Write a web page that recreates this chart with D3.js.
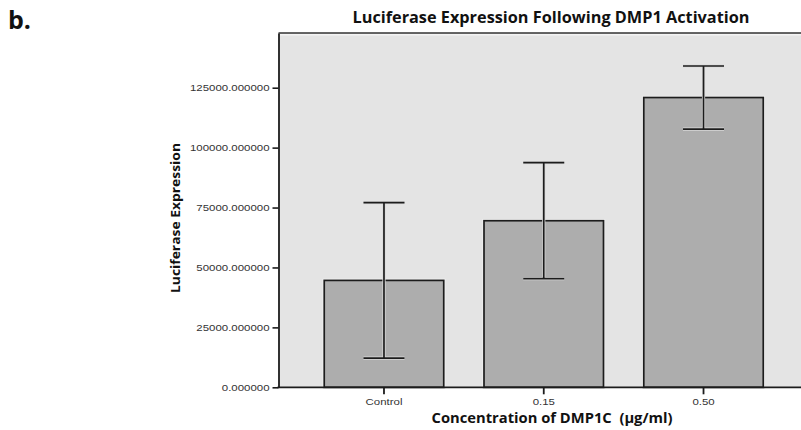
<!DOCTYPE html>
<html>
<head>
<meta charset="utf-8">
<script src="https://cdn.jsdelivr.net/npm/d3@7"></script>
<style>
  html, body { margin: 0; padding: 0; background: #ffffff; }
  svg { display: block; }
</style>
</head>
<body>
<svg id="chart" width="801" height="430"></svg>
<script>
// ---- data ----
const categories = ["Control", "0.15", "0.50"];
const means = [44600, 69500, 120900];
const errors = [32450, 24200, 13150];
const yTicks = [0, 25000, 50000, 75000, 100000, 125000];

const titleText = "Luciferase Expression Following DMP1 Activation";
const xTitle = "Concentration of DMP1C  (\u00b5g/ml)";
const yTitle = "Luciferase Expression";

// ---- layout ----
const W = 801, H = 430;
const plot = { left: 278.5, right: 802, top: 33, bottom: 387.3 };
const svg = d3.select("#chart");

const y = d3.scaleLinear()
  .domain([0, 125000 * (plot.bottom - plot.top) / (plot.bottom - 87.7)])
  .range([plot.bottom, plot.top]);

const x = d3.scaleBand()
  .domain(categories)
  .range([304.1, 783.4])
  .paddingInner(0.252)
  .paddingOuter(0.126);

const dark = "#1c1c1c";
const halo = "#f0f0f0";

// "b." label
svg.append("text")
  .attr("x", 8).attr("y", 29)
  .attr("font-family", "Open Sans, sans-serif")
  .attr("font-weight", "bold")
  .attr("font-size", 25)
  .attr("fill", "#111")
  .text("b.");

// title
svg.append("text")
  .attr("x", 551).attr("y", 23)
  .attr("text-anchor", "middle")
  .attr("font-family", "Open Sans, sans-serif")
  .attr("font-weight", "bold")
  .attr("font-size", 15.5)
  .attr("fill", "#111")
  .attr("textLength", 397)
  .attr("lengthAdjust", "spacingAndGlyphs")
  .text(titleText);

// plot background
svg.append("rect")
  .attr("x", plot.left).attr("y", plot.top)
  .attr("width", plot.right - plot.left)
  .attr("height", plot.bottom - plot.top)
  .attr("fill", "#e4e4e4");

// top border
svg.append("line")
  .attr("x1", plot.left).attr("x2", plot.right)
  .attr("y1", plot.top + 1.5).attr("y2", plot.top + 1.5)
  .attr("stroke", "#f3f3f3").attr("stroke-width", 2);
svg.append("line")
  .attr("x1", plot.left).attr("x2", plot.right)
  .attr("y1", plot.top).attr("y2", plot.top)
  .attr("stroke", "#333").attr("stroke-width", 1.6);

// bars
const bars = svg.append("g");
bars.selectAll("rect.halo")
  .data(categories)
  .join("rect")
  .attr("class", "halo")
  .attr("x", d => x(d))
  .attr("y", (d, i) => y(means[i]))
  .attr("width", x.bandwidth())
  .attr("height", (d, i) => y(0) - y(means[i]))
  .attr("fill", "none")
  .attr("stroke", halo)
  .attr("stroke-width", 3.4);
bars.selectAll("rect.bar")
  .data(categories)
  .join("rect")
  .attr("class", "bar")
  .attr("x", d => x(d))
  .attr("y", (d, i) => y(means[i]))
  .attr("width", x.bandwidth())
  .attr("height", (d, i) => y(0) - y(means[i]))
  .attr("fill", "#adadad")
  .attr("stroke", dark)
  .attr("stroke-width", 1.7);

// error bars
const capW = 41;
const eb = svg.append("g");
function drawErr(stroke, sw) {
  categories.forEach((c, i) => {
    const cx = x(c) + x.bandwidth() / 2;
    const yHi = y(means[i] + errors[i]);
    const yLo = y(means[i] - errors[i]);
    eb.append("line")
      .attr("x1", cx).attr("x2", cx).attr("y1", yHi).attr("y2", yLo)
      .attr("stroke", stroke).attr("stroke-width", sw);
    [yHi, yLo].forEach(yy => {
      eb.append("line")
        .attr("x1", cx - capW / 2).attr("x2", cx + capW / 2)
        .attr("y1", yy).attr("y2", yy)
        .attr("stroke", stroke).attr("stroke-width", sw);
    });
  });
}
drawErr("#d9d9d9", 3.2);
drawErr(dark, 1.7);

// y axis
const yAxis = svg.append("g")
  .attr("transform", `translate(${plot.left},0)`)
  .call(d3.axisLeft(y).tickValues(yTicks).tickSize(6).tickSizeOuter(0)
    .tickFormat(d => d.toFixed(6)));
yAxis.select(".domain").attr("stroke", dark).attr("stroke-width", 1.8);
yAxis.selectAll(".tick line").attr("stroke", dark).attr("stroke-width", 1.6);
yAxis.selectAll(".tick text")
  .attr("x", -9)
  .attr("font-family", "Liberation Sans, Arial, sans-serif")
  .attr("font-size", 8.8)
  .attr("fill", "#333")
  .each(function() {
    const len = this.getComputedTextLength();
    d3.select(this).attr("textLength", len * 1.3).attr("lengthAdjust", "spacingAndGlyphs");
  });

// x axis
svg.append("line")
  .attr("x1", plot.left - 1).attr("x2", plot.right)
  .attr("y1", plot.bottom).attr("y2", plot.bottom)
  .attr("stroke", dark).attr("stroke-width", 1.8);
const xAxis = svg.append("g")
  .attr("transform", `translate(0,${plot.bottom})`)
  .call(d3.axisBottom(x).tickSize(7).tickSizeOuter(0));
xAxis.select(".domain").remove();
xAxis.selectAll(".tick line").attr("stroke", dark).attr("stroke-width", 1.8);
xAxis.selectAll(".tick text")
  .attr("y", 11)
  .attr("font-family", "Liberation Sans, Arial, sans-serif")
  .attr("font-size", 8.8)
  .attr("fill", "#333")
  .each(function() {
    const len = this.getComputedTextLength();
    d3.select(this).attr("textLength", len * 1.3).attr("lengthAdjust", "spacingAndGlyphs");
  });

// axis titles
svg.append("text")
  .attr("x", 552).attr("y", 423)
  .attr("text-anchor", "middle")
  .attr("font-family", "Open Sans, sans-serif")
  .attr("font-weight", "bold")
  .attr("font-size", 13.5)
  .attr("fill", "#111")
  .style("white-space", "pre")
  .attr("textLength", 241)
  .attr("lengthAdjust", "spacingAndGlyphs")
  .text(xTitle);

svg.append("text")
  .attr("transform", "translate(180,218) rotate(-90)")
  .attr("text-anchor", "middle")
  .attr("font-family", "Open Sans, sans-serif")
  .attr("font-weight", "bold")
  .attr("font-size", 12.5)
  .attr("fill", "#111")
  .attr("textLength", 150)
  .attr("lengthAdjust", "spacingAndGlyphs")
  .text(yTitle);
</script>
</body>
</html>
